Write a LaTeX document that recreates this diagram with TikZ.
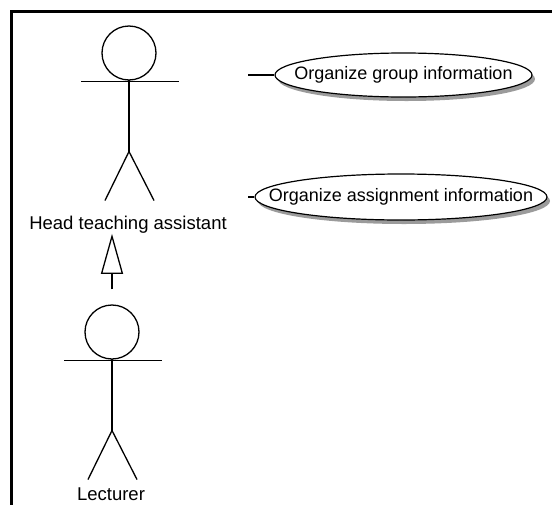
\documentclass[tikz,border=0pt]{standalone}
\usepackage{fontspec}
\setmainfont{Liberation Sans}
\usetikzlibrary{arrows.meta,shapes.geometric,shadows}

\tikzset{
  figline/.style={line width=1.3pt, black},
  % stick-figure actor; its head node is called <name>-head
  actor/.pic={
    \node[circle, draw, figline, minimum size=54pt, inner sep=0pt] (-head) at (0,0) {};
    \draw[figline] (-48,28.5) -- (50,28.5);
    \draw[figline] (0,27) -- (0,98.5);
    \draw[figline] (-24,147.5) -- (0,98.5) -- (25,147.5);
  },
  lbl/.style={inner sep=0pt, font=\fontsize{18.5}{22}\selectfont},
  usecase/.style={ellipse, draw, line width=1.2pt, fill=white, inner sep=0pt,
    drop shadow={shadow xshift=3pt, shadow yshift=-4pt, fill=black!65, opacity=0.6}},
  uctext/.style={inner sep=0pt, font=\fontsize{18}{22}\selectfont},
  assoc/.style={line width=1.3pt},
  generalization/.style={line width=1.3pt,
    -{Triangle[open, length=40pt, width=22pt, line width=1.3pt]}},
  frameline/.style={line width=2.5pt, line cap=rect, line join=miter},
}

\begin{document}
\begin{tikzpicture}[x=1pt, y=-1pt]
  \useasboundingbox (0,0) rectangle (552,504);

  % diagram frame (runs past the right and bottom edges)
  \draw[frameline] (11.5,520) -- (11.5,11.5) -- (560,11.5);

  % actors
  \pic (hta) at (129,53) {actor};
  \node[lbl] (htalabel) at (128,225) {Head teaching assistant};

  \pic (lec) at (112,332) {actor};
  \node[lbl] (leclabel) at (111,494) {Lecturer};

  % use cases: fixed-size ellipses with the name set on top
  \node[usecase, minimum width=257pt, minimum height=44pt,
        label={[uctext]center:Organize group information}] (ucgroup) at (403.5,75) {};
  \node[usecase, minimum width=292pt, minimum height=46pt,
        label={[uctext]center:Organize assignment information}] (ucassign) at (401,197) {};

  % association stubs
  \coordinate (endgroup) at (248,75);
  \coordinate (endassign) at (248,197);
  \draw[assoc] (endgroup) -- (ucgroup.west);
  \draw[assoc] (endassign) -- (ucassign.west);

  % Lecturer generalizes to Head teaching assistant
  \coordinate (genstart) at ([yshift=15pt]lec-head.north);
  \draw[generalization] (genstart) -- (genstart |- htalabel.south);
\end{tikzpicture}
\end{document}
